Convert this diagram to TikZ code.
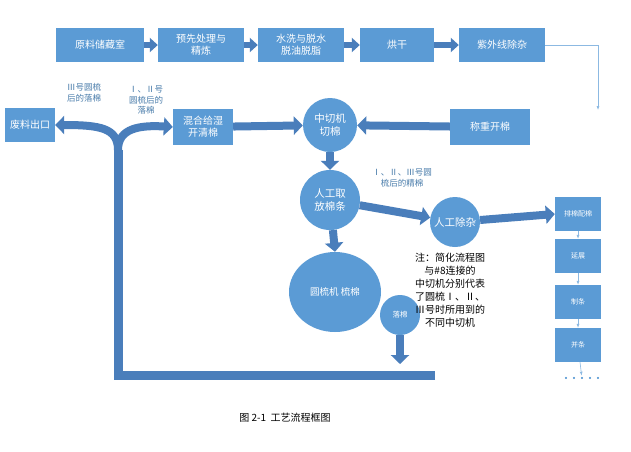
\documentclass[tikz,border=0pt]{standalone}
\usepackage{fontspec}
\setmainfont{Noto Sans CJK SC}
\usetikzlibrary{arrows.meta,shapes.geometric}
\definecolor{bx}{HTML}{5B9BD5}
\definecolor{ar}{HTML}{4A7EBB}
\tikzset{
 box/.style={fill=bx,text=white,font=\fontsize{10}{12}\selectfont,align=center,inner sep=1pt},
 circ/.style={circle,fill=bx,text=white,font=\fontsize{10.5}{13}\selectfont,align=center,inner sep=0pt},
 big/.style={draw=ar,line width=8pt,-{Triangle[length=9pt,width=18pt]}},
 mid/.style={draw=ar,line width=6pt,-{Triangle[length=8pt,width=14pt]}},
 thin/.style={draw=bx!70,line width=0.6pt,-{Latex[length=4pt]}},
 lab/.style={text=bx!80!black,font=\fontsize{8.5}{10.5}\selectfont,align=center},
}
\begin{document}
\begin{tikzpicture}[x=1pt,y=-1pt]
\useasboundingbox (0,0) rectangle (631,451);
\fill[white] (0,0) rectangle (631,451);
% top row
\node[box,minimum width=88,minimum height=34] (a1) at (100,45) {原料储藏室};
\node[box,minimum width=86,minimum height=34] (a2) at (201,45) {预先处理与\\精炼};
\node[box,minimum width=86,minimum height=34] (a3) at (301,45) {水洗与脱水\\脱油脱脂};
\node[box,minimum width=74,minimum height=34] (a4) at (397,45) {烘干};
\node[box,minimum width=86,minimum height=34] (a5) at (502,45) {紫外线除杂};
\draw[mid] (a1) -- (a2);
\draw[mid] (a2) -- (a3);
\draw[mid] (a3) -- (a4);
\draw[mid] (a4) -- (a5);
% weighing
\node[box,minimum width=80,minimum height=36] (w) at (490,127) {称重开棉};
\coordinate (c1) at (598,45);
\coordinate (c2) at (598,100);
\draw[bx!70,line width=0.6pt] (a5.east) -- (c1) -- (c2);
\draw[thin] (c2) -- (598,110);
\node[circ,minimum size=54] (z) at (330,125) {中切机\\切棉};
\draw[big] (w) -- (z);
\node[box,minimum width=60,minimum height=36] (m) at (203,127) {混合给湿\\开清棉};
\draw[big] (m) -- (z);
\node[box,minimum width=50,minimum height=34] (f) at (30,125) {废料出口};
% trunk
\coordinate (t0) at (118,375);
\coordinate (t1) at (118,150);
\draw[draw=ar,line width=9pt] (435,375) -- (t0) -- (t1);
\draw[big] (t1) .. controls (118,128) and (100,125) .. (f.east);
\draw[big] (t1) .. controls (118,128) and (140,125) .. (m.west);
\node[lab] (l1) at (84,93) {Ⅲ号圆梳\\后的落棉};
\node[lab] (l2) at (146,100) {Ⅰ、Ⅱ号\\圆梳后的\\落棉};
% middle
\node[circ,minimum size=60] (r) at (330,200) {人工取\\放棉条};
\draw[big] (z) -- (r);
\node[circ,minimum size=50] (c) at (455,222) {人工除杂};
\draw[big] (r) -- (c);
\node[lab] (l3) at (402,178) {Ⅰ、Ⅱ、Ⅲ号圆\\梳后的精棉};
\node[ellipse,fill=bx,minimum width=92,minimum height=80,inner sep=0pt] (y) at (335,292) {};
\node[text=white,font=\fontsize{9.5}{11}\selectfont] at (y) {圆梳机 梳棉};
\draw[big] (r) -- (y.north);
\node[circ,minimum size=40,font=\fontsize{7.5}{9}\selectfont] (lm) at (400,315) {落棉};
\coordinate (d) at (400,364);
\draw[big] (lm) -- (d);
\node[font=\fontsize{10}{13}\selectfont,align=center] (n) at (450,290) {注：简化流程图\\与\#8连接的\\中切机分别代表\\了圆梳Ⅰ、Ⅱ、\\Ⅲ号时所用到的\\不同中切机};
% right column
\node[box,minimum width=46,minimum height=34,font=\fontsize{7}{9}\selectfont] (p1) at (578,214) {排棉配棉};
\node[box,minimum width=46,minimum height=34,font=\fontsize{7}{9}\selectfont] (p2) at (578,256) {延展};
\node[box,minimum width=46,minimum height=34,font=\fontsize{7}{9}\selectfont] (p3) at (578,302) {制条};
\node[box,minimum width=46,minimum height=34,font=\fontsize{7}{9}\selectfont] (p4) at (578,345) {并条};
\node[text=bx,font=\fontsize{8}{9}\selectfont\bfseries,inner sep=1pt] (p5) at (582,379) {·····};
\draw[big] (c) -- (p1.west);
\draw[thin] (p1) -- (p2);
\draw[thin] (p2) -- (p3);
\draw[thin] (p3) -- (p4);
\draw[thin] (p4) -- (p5);
\node[font=\fontsize{10}{12}\selectfont] (cap) at (285,418) {图 2-1\ \ 工艺流程框图};
\end{tikzpicture}
\end{document}
